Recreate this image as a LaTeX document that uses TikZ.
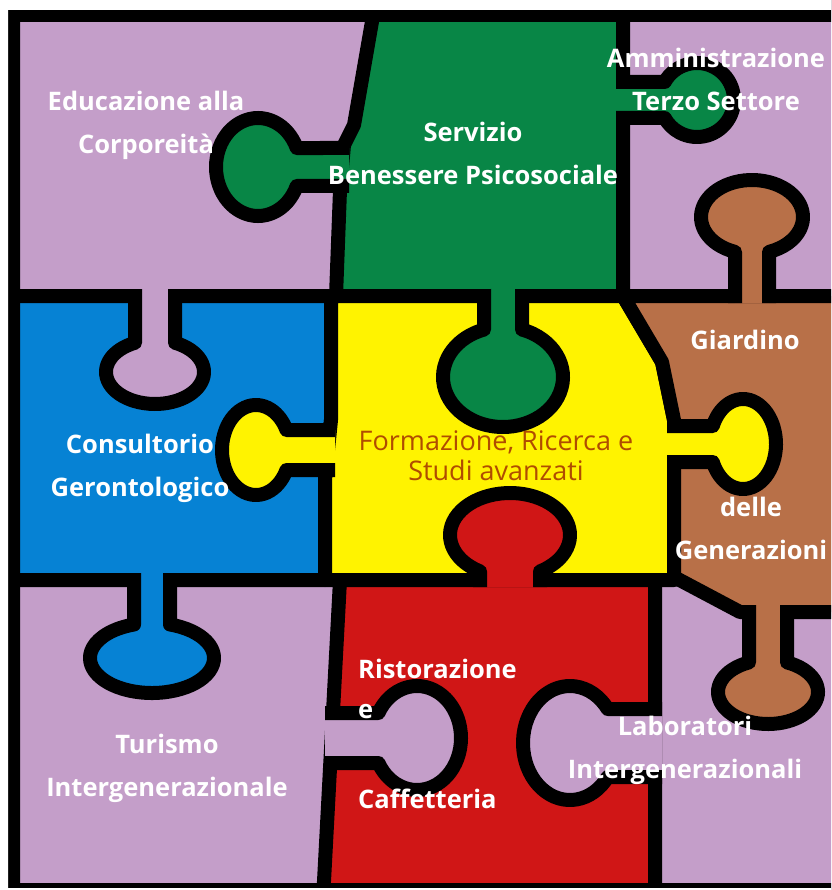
\documentclass[tikz,border=0pt]{standalone}
\usepackage{fontspec}
\setmainfont{Open Sans}

\definecolor{lilac}{RGB}{196,158,201}
\definecolor{pgreen}{RGB}{8,134,70}
\definecolor{pblue}{RGB}{6,130,212}
\definecolor{pyellow}{RGB}{255,243,0}
\definecolor{pred}{RGB}{208,22,22}
\definecolor{pbrown}{RGB}{184,112,72}
\definecolor{rusty}{RGB}{176,76,0}

% knob: colour, edge x, edge y, direction, half neck, distance, along, across
\newcommand\knob[8]{%
  \filldraw[piece, fill=#1, shift={(#2,#3)}, rotate=#4]
    (-7,-#5) -- ({#6-#7*cos(asin(#5/#8))},-#5)
    arc[start angle={180+asin(#5/#8)}, end angle={540-asin(#5/#8)},
        x radius=#7, y radius=#8]
    -- (-7,#5);
}

\begin{document}
\begin{tikzpicture} [
    x=1pt, y=1pt, yscale=-1,
    piece/.style = { draw=black, line width=14pt, line join=round },
    tag/.style   = { text=white, align=center, inner sep=0pt,
                     font=\fontsize{25.5}{43}\selectfont\bfseries },
    core/.style  = { text=rusty, align=center, inner sep=0pt,
                     font=\fontsize{27}{30}\selectfont },
  ]
  \useasboundingbox (0,0) rectangle (831,890);
  \clip (0,0) rectangle (831,890);
  \fill[lilac] (0,0) rectangle (840,900);

  % bodies
  \filldraw[piece, fill=pgreen] (374,10) -- (623,10) -- (623,296) -- (336,296)
    -- (340,190) -- (344,145) -- (354,125) -- cycle;
  \filldraw[piece, fill=pblue] (0,296) -- (331,296) -- (331,420) -- (325,480)
    -- (325,580) -- (0,580) -- cycle;
  \filldraw[piece, fill=pyellow] (331,296) -- (623,296) -- (662,362) -- (674,420)
    -- (674,580) -- (325,580) -- (325,480) -- (331,420) -- cycle;
  \filldraw[piece, fill=pbrown] (623,296) -- (840,296) -- (840,612) -- (740,612)
    -- (674,577) -- (674,420) -- (662,362) -- cycle;
  \filldraw[piece, fill=pred] (340,580) -- (655,580) -- (655,900) -- (323,900)
    -- cycle;

  % knobs
  \knob{pgreen}{342}{167}{180}{19}{84}{42}{49}
  \knob{pgreen}{503}{296}{90}{19}{81}{50}{60}
  \knob{pgreen}{623}{100}{0}{18}{74}{37}{37}
  \knob{lilac}{155}{296}{90}{20}{76}{32}{49}
  \knob{pblue}{152}{580}{90}{18}{78}{35}{62}
  \knob{pyellow}{328}{450}{180}{20}{72}{34}{45}
  \knob{pyellow}{674}{444}{0}{18}{69}{33}{45}
  \knob{pred}{510}{580}{-90}{30}{45}{42}{60}
  \knob{pbrown}{752}{296}{-90}{17}{79}{37}{51}
  \knob{pbrown}{768}{612}{90}{19}{80}{32}{50}
  \knob{lilac}{332}{738}{0}{25}{85}{44}{52}
  \knob{lilac}{655}{743}{180}{34}{85}{47}{57}

  % frame
  \fill[black, even odd rule] (-10,-10) rectangle (850,900) (20,22) rectangle (850,883);
  \fill[white, even odd rule] (-10,-10) rectangle (850,900) (8,10) rectangle (850,888);

  % texts
  \node[tag] (educazione) at (146,125) {Educazione alla\\Corporeità};
  \node[tag] (servizio) at (473,153) {Servizio\\Benessere Psicosociale};
  \node[tag] (amministrazione) at (716,79) {Amministrazione\\Terzo Settore};
  \node[tag] (giardino) at (745,340) {Giardino};
  \node[tag] (generazioni) at (751,528) {delle\\Generazioni};
  \node[tag] (consultorio) at (140,468) {Consultorio\\Gerontologico};
  \node[core] (formazione) at (496,456) {Formazione, Ricerca e\\Studi avanzati};
  \node[tag, anchor=west] (ristorazione) at (358,669) {Ristorazione};
  \node[tag, anchor=west] (e) at (358,712) {e};
  \node[tag, anchor=west] (caffetteria) at (358,799) {Caffetteria};
  \node[tag] (turismo) at (167,768) {Turismo\\Intergenerazionale};
  \node[tag] (laboratori) at (685,750) {Laboratori\\Intergenerazionali};
\end{tikzpicture}
\end{document}
